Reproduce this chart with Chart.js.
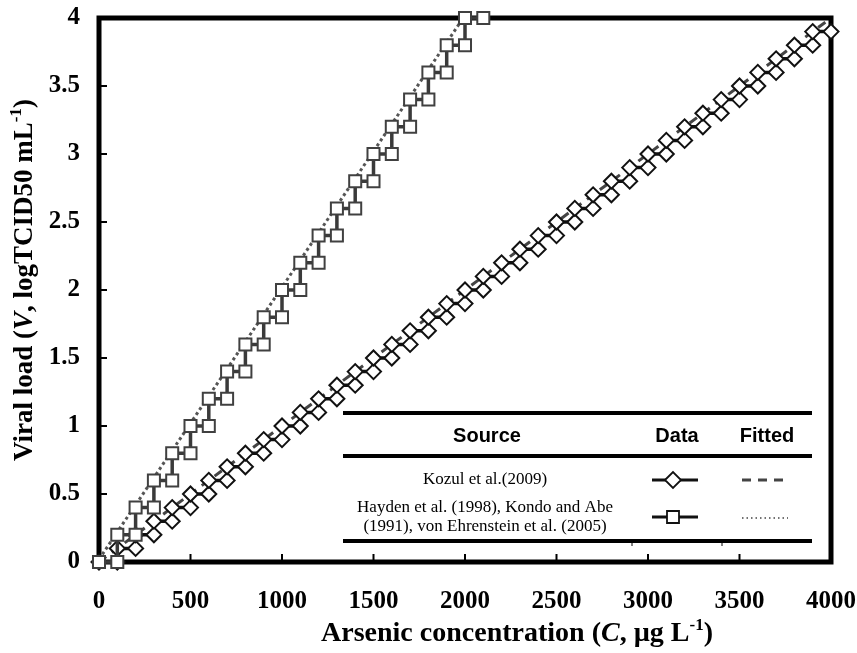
<!DOCTYPE html>
<html>
<head>
<meta charset="utf-8">
<script src="https://cdn.jsdelivr.net/npm/chart.js@4.4.1/dist/chart.umd.min.js"></script>
<style>
  html, body { margin: 0; padding: 0; background: #fff; }
</style>
</head>
<body>
<canvas id="chartViral" width="857" height="653"></canvas>
<script>
// Kozul et al.(2009) - staircase data (diamonds)
const kozulX = [0, 100, 100, 200, 200, 300, 300, 400, 400, 500, 500, 600, 600, 700, 700, 800, 800, 900, 900, 1000,
  1000, 1100, 1100, 1200, 1200, 1300, 1300, 1400, 1400, 1500, 1500, 1600, 1600, 1700, 1700, 1800, 1800, 1900, 1900, 2000,
  2000, 2100, 2100, 2200, 2200, 2300, 2300, 2400, 2400, 2500, 2500, 2600, 2600, 2700, 2700, 2800, 2800, 2900, 2900, 3000,
  3000, 3100, 3100, 3200, 3200, 3300, 3300, 3400, 3400, 3500, 3500, 3600, 3600, 3700, 3700, 3800, 3800, 3900, 3900, 4000];
const kozulY = [0, 0, 0.1, 0.1, 0.2, 0.2, 0.3, 0.3, 0.4, 0.4, 0.5, 0.5, 0.6, 0.6, 0.7, 0.7, 0.8, 0.8, 0.9, 0.9,
  1.0, 1.0, 1.1, 1.1, 1.2, 1.2, 1.3, 1.3, 1.4, 1.4, 1.5, 1.5, 1.6, 1.6, 1.7, 1.7, 1.8, 1.8, 1.9, 1.9,
  2.0, 2.0, 2.1, 2.1, 2.2, 2.2, 2.3, 2.3, 2.4, 2.4, 2.5, 2.5, 2.6, 2.6, 2.7, 2.7, 2.8, 2.8, 2.9, 2.9,
  3.0, 3.0, 3.1, 3.1, 3.2, 3.2, 3.3, 3.3, 3.4, 3.4, 3.5, 3.5, 3.6, 3.6, 3.7, 3.7, 3.8, 3.8, 3.9, 3.9];

// Hayden / Kondo and Abe / von Ehrenstein - staircase data (squares)
const haydenX = [0, 100, 100, 200, 200, 300, 300, 400, 400, 500, 500, 600, 600, 700, 700, 800, 800, 900, 900, 1000,
  1000, 1100, 1100, 1200, 1200, 1300, 1300, 1400, 1400, 1500, 1500, 1600, 1600, 1700, 1700, 1800, 1800, 1900, 1900, 2000,
  2000, 2100];
const haydenY = [0, 0, 0.2, 0.2, 0.4, 0.4, 0.6, 0.6, 0.8, 0.8, 1.0, 1.0, 1.2, 1.2, 1.4, 1.4, 1.6, 1.6, 1.8, 1.8,
  2.0, 2.0, 2.2, 2.2, 2.4, 2.4, 2.6, 2.6, 2.8, 2.8, 3.0, 3.0, 3.2, 3.2, 3.4, 3.4, 3.6, 3.6, 3.8, 3.8,
  4.0, 4.0];

// fitted lines
const kozulFitX = [0, 4000];
const kozulFitY = [0, 4];
const haydenFitX = [0, 2000];
const haydenFitY = [0.02, 4.02];

// axis ticks
const xTicks = [0, 500, 1000, 1500, 2000, 2500, 3000, 3500, 4000];
const yTicks = [0, 0.5, 1, 1.5, 2, 2.5, 3, 3.5, 4];

const toPoints = (xs, ys) => xs.map((x, i) => ({ x: x, y: ys[i] }));

const SERIF = '"Liberation Serif", "Times New Roman", serif';
const SANS = '"Liberation Sans", Arial, sans-serif';

// draw text pieces (normal / italic / superscript) centered on x
function drawRuns(ctx, runs, cx, cy, size) {
  const fontOf = (r) => (r.italic ? 'italic ' : '') + 'bold ' + (r.sup ? Math.round(size * 0.62) : size) + 'px ' + SERIF;
  let total = 0;
  runs.forEach(r => { ctx.font = fontOf(r); total += ctx.measureText(r.t).width; });
  let x = cx - total / 2;
  runs.forEach(r => {
    ctx.font = fontOf(r);
    ctx.fillText(r.t, x, r.sup ? cy - size * 0.4 : cy);
    x += ctx.measureText(r.t).width;
  });
}

const framePlugin = {
  id: 'frame',
  beforeDatasetsDraw(chart) {
    const { ctx, chartArea: a, scales } = chart;
    ctx.save();
    // inward ticks
    ctx.strokeStyle = '#000';
    ctx.lineWidth = 2;
    ctx.beginPath();
    xTicks.forEach(v => {
      const px = scales.x.getPixelForValue(v);
      ctx.moveTo(px, a.bottom); ctx.lineTo(px, a.bottom - 8);
    });
    yTicks.forEach(v => {
      const py = scales.y.getPixelForValue(v);
      ctx.moveTo(a.left, py); ctx.lineTo(a.left + 8, py);
    });
    ctx.stroke();
    // thick frame
    ctx.lineWidth = 5;
    ctx.strokeRect(a.left, a.top, a.right - a.left, a.bottom - a.top);
    ctx.restore();
  },
  afterDraw(chart) {
    const { ctx } = chart;
    ctx.save();
    ctx.fillStyle = '#000';
    ctx.textBaseline = 'alphabetic';
    ctx.textAlign = 'left';

    // x title
    drawRuns(ctx, [
      { t: 'Arsenic concentration (' }, { t: 'C', italic: true }, { t: ', \u00b5g L' }, { t: '-1', sup: true }, { t: ')' }
    ], 517, 641, 28);

    // y title
    ctx.save();
    ctx.translate(32, 280);
    ctx.rotate(-Math.PI / 2);
    drawRuns(ctx, [
      { t: 'Viral load (' }, { t: 'V', italic: true }, { t: ', logTCID50 mL' }, { t: '-1', sup: true }, { t: ')' }
    ], 0, 0, 27);
    ctx.restore();

    // legend table
    const L = 343, R = 812;
    ctx.strokeStyle = '#000';
    ctx.lineWidth = 4;
    [413, 456, 541].forEach(yy => {
      ctx.beginPath(); ctx.moveTo(L, yy); ctx.lineTo(R, yy); ctx.stroke();
    });
    ctx.lineWidth = 1;
    ctx.beginPath();
    ctx.moveTo(632, 541); ctx.lineTo(632, 546);
    ctx.moveTo(722, 541); ctx.lineTo(722, 546);
    ctx.stroke();

    ctx.textAlign = 'center';
    ctx.textBaseline = 'middle';
    ctx.font = 'bold 20px ' + SANS;
    ctx.fillText('Source', 487, 436);
    ctx.fillText('Data', 677, 436);
    ctx.fillText('Fitted', 767, 436);

    ctx.font = '17px ' + SERIF;
    ctx.fillText('Kozul et al.(2009)', 485, 480);
    ctx.fillText('Hayden et al. (1998), Kondo and Abe', 485, 508);
    ctx.fillText('(1991), von Ehrenstein et al. (2005)', 485, 527);

    // data samples
    ctx.strokeStyle = '#111';
    ctx.lineWidth = 3;
    ctx.beginPath(); ctx.moveTo(652, 480); ctx.lineTo(698, 480); ctx.stroke();
    ctx.beginPath(); ctx.moveTo(652, 517); ctx.lineTo(698, 517); ctx.stroke();
    ctx.fillStyle = '#fff';
    ctx.lineWidth = 1.8;
    ctx.beginPath();
    ctx.moveTo(673 - 8, 480); ctx.lineTo(673, 472); ctx.lineTo(673 + 8, 480); ctx.lineTo(673, 488); ctx.closePath();
    ctx.fill(); ctx.stroke();
    ctx.beginPath();
    ctx.rect(667, 511, 12, 12);
    ctx.fill(); ctx.stroke();

    // fitted samples
    ctx.strokeStyle = '#444';
    ctx.lineWidth = 3;
    ctx.setLineDash([9, 7]);
    ctx.beginPath(); ctx.moveTo(742, 480); ctx.lineTo(790, 480); ctx.stroke();
    ctx.lineWidth = 1.5;
    ctx.setLineDash([1.5, 3]);
    ctx.beginPath(); ctx.moveTo(742, 518); ctx.lineTo(788, 518); ctx.stroke();
    ctx.restore();
  }
};

const ctx = document.getElementById('chartViral').getContext('2d');

new Chart(ctx, {
  type: 'line',
  data: {
    datasets: [
      {
        label: 'Hayden et al. (1998), Kondo and Abe (1991), von Ehrenstein et al. (2005)',
        data: toPoints(haydenX, haydenY),
        borderColor: '#3a3a3a',
        borderWidth: 3.5,
        pointStyle: 'rect',
        pointRadius: 8.5,
        pointBorderWidth: 2,
        pointBorderColor: '#404040',
        pointBackgroundColor: '#fff',
        clip: false,
        order: 0
      },
      {
        label: 'Kozul et al.(2009)',
        data: toPoints(kozulX, kozulY),
        borderColor: '#111',
        borderWidth: 3.5,
        pointStyle: 'rectRot',
        pointRadius: 7.5,
        pointBorderWidth: 2,
        pointBorderColor: '#111',
        pointBackgroundColor: '#fff',
        clip: false,
        order: 1
      },
      {
        label: 'Kozul fitted',
        data: toPoints(kozulFitX, kozulFitY),
        borderColor: '#444',
        borderWidth: 3,
        borderDash: [9, 7],
        pointRadius: 0,
        order: 2
      },
      {
        label: 'Hayden fitted',
        data: toPoints(haydenFitX, haydenFitY),
        borderColor: '#555',
        borderWidth: 3,
        borderDash: [3, 3],
        pointRadius: 0,
        order: 2
      }
    ]
  },
  options: {
    responsive: false,
    animation: false,
    layout: { padding: { top: 18, right: 26, left: 0, bottom: 0 } },
    plugins: {
      legend: { display: false },
      tooltip: { enabled: false }
    },
    scales: {
      x: {
        type: 'linear',
        min: 0,
        max: 4000,
        afterBuildTicks: (scale) => { scale.ticks = xTicks.map(v => ({ value: v })); },
        afterFit: (scale) => { scale.height = 91; scale.paddingLeft = 0; scale.paddingRight = 0; },
        ticks: {
          color: '#000',
          padding: 25,
          maxRotation: 0,
          callback: (v) => String(v),
          font: { family: SERIF, size: 25, weight: 'bold' }
        },
        grid: { display: false, drawTicks: false },
        border: { display: false }
      },
      y: {
        type: 'linear',
        min: 0,
        max: 4,
        afterBuildTicks: (scale) => { scale.ticks = yTicks.map(v => ({ value: v })); },
        afterFit: (scale) => { scale.width = 99; scale.paddingTop = 0; scale.paddingBottom = 0; },
        ticks: {
          color: '#000',
          padding: 19,
          callback: (v) => String(v),
          font: { family: SERIF, size: 25, weight: 'bold' }
        },
        grid: { display: false, drawTicks: false },
        border: { display: false }
      }
    }
  },
  plugins: [framePlugin]
});
</script>
</body>
</html>
